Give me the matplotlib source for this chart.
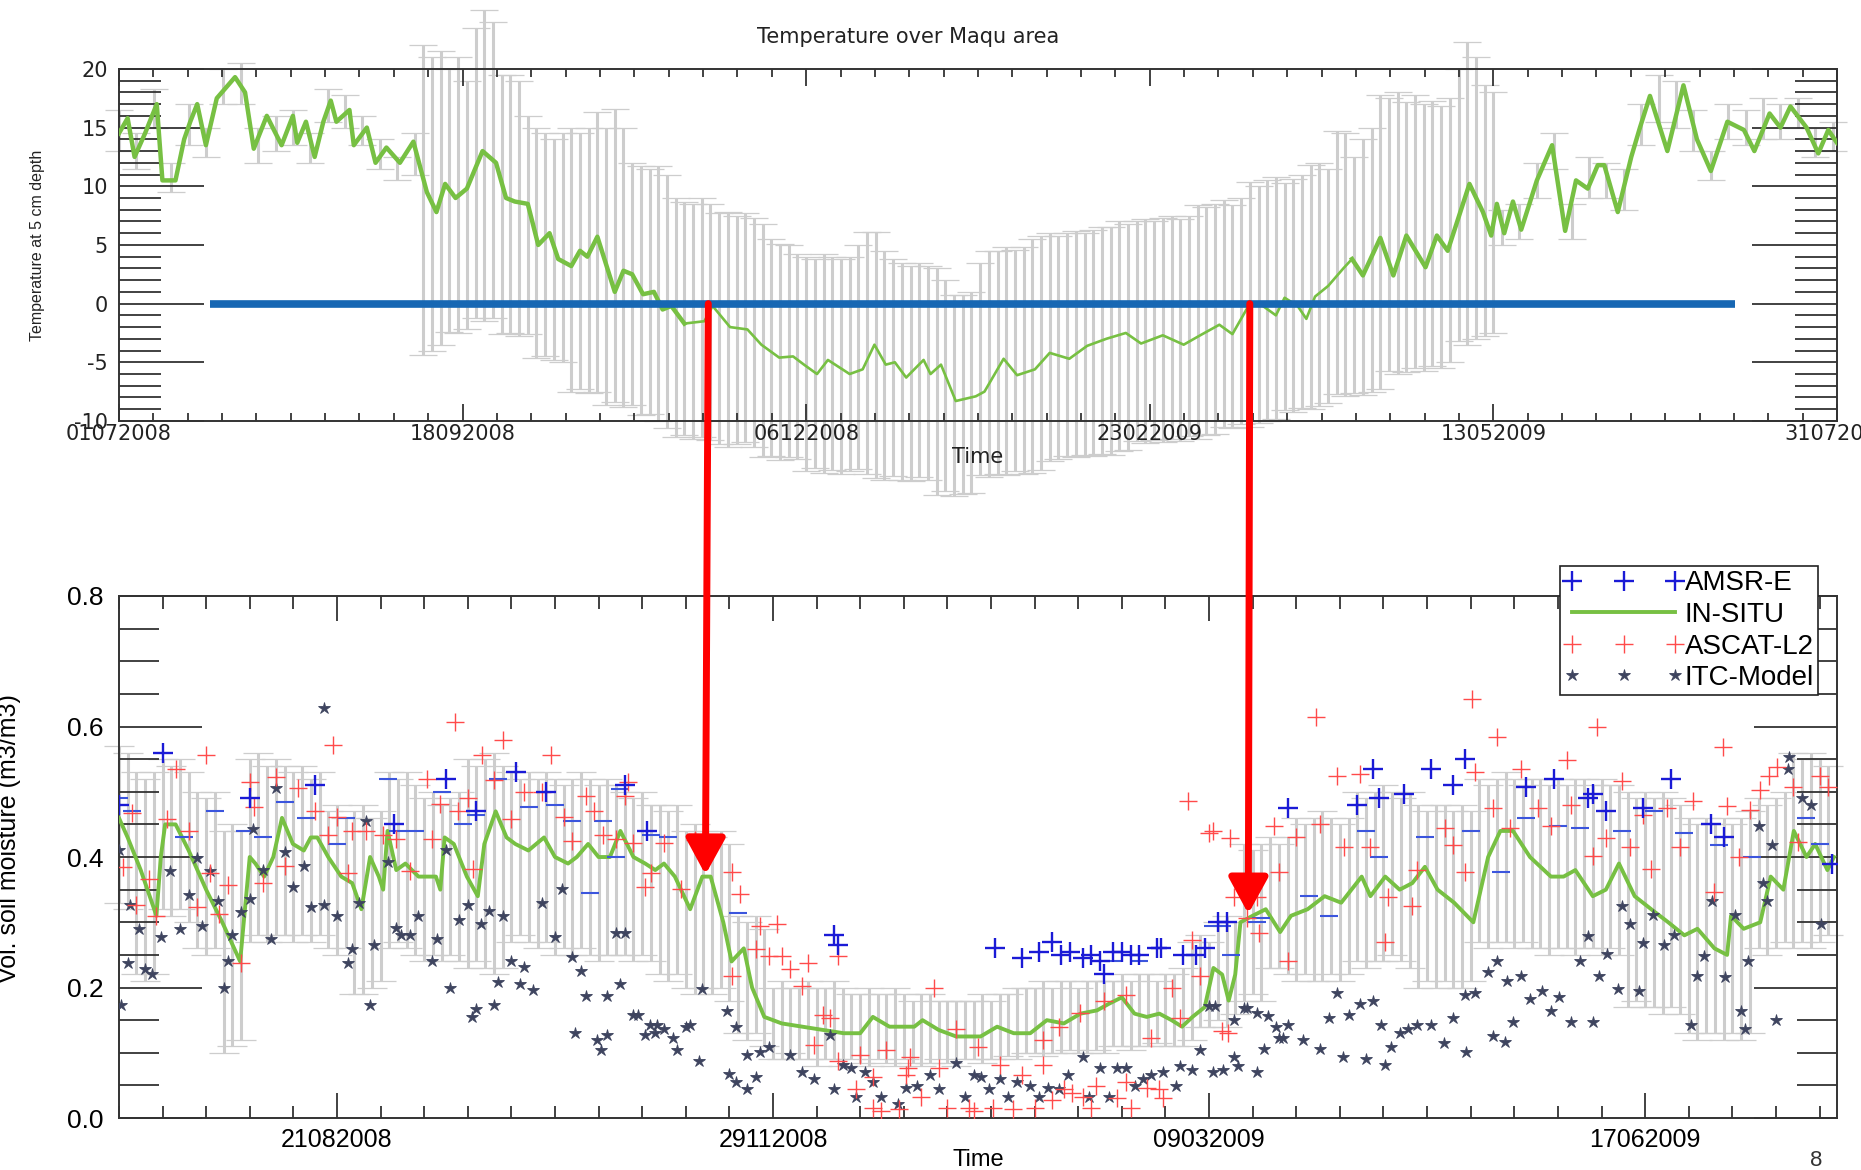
#soil temperature and soil moisture over Maqu, 2008-2009

import numpy as np
import matplotlib.pyplot as plt
from matplotlib.patches import ConnectionPatch
from matplotlib.ticker import FixedLocator, MultipleLocator

plt.rcParams['axes.unicode_minus'] = False

# ---- top panel: temperature at 5 cm (days since 01-07-2008) ----
temp_day = [0, 2, 3.6, 6, 8.7, 10, 13, 15, 16.4, 18, 20, 22.5, 26.7, 29, 31, 34, 37.4, 40, 41, 43,
            45, 47, 48.7, 50, 53, 54, 57, 59, 61.5, 64.6, 67.7, 70.8, 73, 75, 77.4, 80, 83.6, 86.7, 89, 91,
            94, 96.4, 99, 101, 104, 106, 107.7, 110, 114, 116, 118, 120.5, 123, 125, 127, 130, 134.6, 136.5, 140.5, 144.5,
            147.7, 151.8, 155, 157.5, 160.5, 163, 168, 171, 173.7, 176.3, 178.4, 181, 185, 186.6, 189, 192.4, 197, 199, 203.4, 206.5,
            210.6, 214, 218.5, 222.6, 227, 231.5, 235, 240, 244.8, 248.6, 253, 256, 260, 263, 266, 268, 271, 273, 275, 278,
            281.5, 283.5, 286, 290, 293, 296, 300.4, 303, 305.5, 310.5, 313.6, 315.5, 316.8, 318.5, 320.5, 322.4, 326, 329.5, 332.5, 335,
            337.7, 340, 341.5, 344.6, 347.7, 349.7, 352, 356, 359.7, 362.8, 366, 369.8, 373.6, 376, 379.5, 382, 384.3, 388, 390.7, 393, 395]
temp_val = [14.5, 15.8, 12.5, 14.5, 17, 10.5, 10.5, 14, 15.5, 17, 13.5, 17.5, 19.3, 18, 13.2, 16, 13.5, 16, 13.7, 15.5,
            12.5, 15.5, 17.3, 15.5, 16.5, 13.5, 15, 12, 13.3, 12, 13.8, 9.5, 7.8, 10.2, 9, 9.8, 13, 12, 9, 8.7,
            8.5, 5, 6, 3.8, 3.2, 4.5, 4, 5.7, 1, 2.8, 2.5, 0.8, 1, -0.5, -0.2, -1.7, -1.5, -0.2, -2, -2.2,
            -3.5, -4.6, -4.5, -5.2, -6, -4.8, -6, -5.6, -3.5, -5.2, -5, -6.3, -4.8, -6, -5.2, -8.3, -7.9, -7.5, -4.7, -6.1,
            -5.6, -4.2, -4.7, -3.6, -3.0, -2.5, -3.4, -2.7, -3.5, -2.7, -1.8, -2.6, 0, -0.2, -1.0, 0.5, -0.2, -1.3, 0.6, 1.5,
            3, 3.8, 2.4, 5.6, 2.4, 5.8, 3.1, 5.8, 4.5, 10.2, 7.8, 5.8, 8.5, 6, 8.7, 6.3, 10.5, 13.5, 6.2, 10.5,
            9.8, 11.8, 11.8, 7.8, 12.5, 15, 17.7, 13, 18.6, 14, 11.3, 15.5, 14.8, 13, 16.2, 15, 16.8, 15, 12.8, 14.8, 13.7]

# spread of the stations, every 2 days from day 70 to 316
temp_err_day = np.arange(70, 317, 2)
temp_err_hi = [22, 21, 21.5, 20, 21, 19, 23.5, 25, 24, 19.5, 19.5, 19, 16, 15, 14.5, 14, 14.5, 15, 14.5, 15,
               16.3, 15, 16.6, 15, 12, 11.7, 11.5, 11.7, 11, 9, 8.7, 8.5, 9, 8.5, 7.7, 7.8, 7.5, 7.7, 7.3, 6.8,
               5.5, 5.1, 5, 4.2, 4, 3.8, 4.2, 4, 3.8, 4, 5, 6.1, 6.1, 4.5, 3.8, 3.5, 3.2, 3.5, 3.2, 3, 2,
               0.7, 0.7, 1, 3.5, 4.5, 4.5, 4.8, 4.6, 4.8, 5.5, 5.8, 6, 5.8, 6, 6.2, 6, 6.3, 6.5, 6.5,
               7, 6.8, 7, 7.2, 7, 7.3, 7.5, 7.2, 7.5, 8.4, 8.2, 8.5, 8.8, 8.4, 9, 10.4, 10, 10.5, 10.8, 10.3,
               10.6, 11, 11.8, 12, 11.5, 14.7, 14.5, 12.5, 14, 15, 17.8, 17.5, 18, 17.2, 17.8, 17, 17.3, 16.8, 17.5,
               20, 22.3, 21, 18.6, 18]
temp_err_lo = [-4.4, -4, -3.5, -2.4, -2.5, -2.2, -1.2, -1.5, -1.2, -2.6, -2.5, -2.8, -2.6, -4.6, -4.5, -4.8, -5,
               -7.5, -7.3, -7.6, -7.5, -8.6, -8.4, -8.8, -8.6, -9.5, -9.4, -10, -10.6, -11.4, -11.2, -11.5, -11.4, -11.6,
               -12, -12.2, -12, -11.8, -12.2, -13.1, -13, -13.3, -13.1, -13.2, -14.3, -14, -14.4, -14.2, -14.5, -14.3, -14.1, -14.5,
               -14.9, -15, -14.7, -15, -15.1, -14.8, -15, -16.3, -16, -16.4, -16.2, -16.1,
               -14.6, -14.8, -14.5, -14.6, -14.3, -14.5, -14.4, -14.2, -13.4, -13.2, -13, -13.1, -12.9, -13, -12.8, -12.9, -12.6, -12.5,
               -11.7, -11.9, -11.6, -11.8, -11.5, -11.7, -11.3, -11.5, -11.2, -11.1, -10.5, -10.6, -10.3, -10.5, -10.2, -10, -9.8,
               -9.1, -9.2, -8.9, -9, -8.7, -8.5, -7.7, -7.9, -7.6, -7.8, -7.5, -7.3,
               -5.7, -6, -5.8, -5.5, -5.7, -5.3, -5.5, -5, -3.2, -3.5, -3, -2.8, -2.5]

# small spread in summer
temp_small_day = [0, 4, 8, 12, 16, 20, 24, 28, 32, 36, 40, 44, 48, 52, 56, 60, 64, 68,
                  318, 322, 326, 330, 334, 338, 342, 346, 350, 354, 358, 362, 366, 370, 374, 378, 382, 386, 390, 394]
temp_small_lo = [13, 11.5, 15, 9.5, 13.5, 12.5, 17, 17, 12, 13, 13.5, 12, 15.5, 15, 13.5, 11.5, 10.5, 11,
                 5, 5.5, 9, 11.5, 5.5, 9, 9, 8, 13.5, 15.5, 15, 13, 10.5, 14, 13.5, 14, 14, 15, 12.5, 13]
temp_small_hi = [16.5, 14.5, 18.3, 12, 17, 15, 20, 20.5, 15, 16, 16.5, 14.5, 18.3, 17.8, 16, 14, 12.5, 14.5,
                 8, 8.5, 12, 14.5, 8.5, 12.5, 12, 11.5, 17, 19.5, 19, 16.5, 13, 17, 16.5, 17.5, 17, 17.5, 15, 15.5]

zero_start, zero_end = 21, 371.5
top_tick_day = [0, 79, 158, 237, 316, 395]
top_tick_lab = ['01072008', '18092008', '06122008', '23022009', '13052009', '31072009']

# ---- bottom panel: soil moisture ----
sm_day = [1, 3, 6, 9.6, 10.6, 11.6, 14, 17, 21, 24.7, 28.8, 31, 32.3, 34.3, 36.4, 38.4, 40.9, 43.4, 45, 46.5,
          49, 52, 54.5, 56.6, 58.6, 60.6, 61.6, 62.6, 64.6, 66.7, 69.7, 73.7, 74.7, 75.7, 77.8, 80.8, 83.3, 84.8, 87.4, 89.9,
          91.9, 94.9, 98.5, 101, 104, 106, 108.6, 111, 113.6, 116, 119, 121.7, 124, 126, 128.5, 132, 134.8, 136.7, 139.6, 141.5,
          144.3, 146.2, 149, 153, 157.7, 162.4, 167.2, 171, 173.9, 177.7, 183.4, 185.3, 189, 193, 198.6, 202.4, 206.2, 210, 213.8, 217.7,
          221.5, 225.3, 228, 231, 233.9, 236.7, 239.6, 242.4, 244.8, 247.2, 250, 252, 254, 255.5, 257, 258.2, 261, 264, 267.3, 269.8,
          273.6, 277.5, 281.3, 286, 288, 291.4, 294.7, 297.6, 300.5, 303.4, 307.2, 311.6, 315, 317.8, 320.7, 324.6, 329.4, 332.3, 335, 339,
          342, 345, 348.6, 352.4, 356.3, 360, 363, 366.9, 369.8, 370.7, 373.6, 377.4, 379.8, 382.7, 385.1, 388, 390, 392.8, 394.3]
sm_val = [0.46, 0.43, 0.38, 0.31, 0.40, 0.45, 0.45, 0.41, 0.35, 0.30, 0.24, 0.40, 0.39, 0.37, 0.40, 0.46, 0.42, 0.41, 0.43, 0.43,
          0.40, 0.37, 0.36, 0.32, 0.40, 0.37, 0.35, 0.44, 0.38, 0.39, 0.37, 0.37, 0.35, 0.43, 0.42, 0.37, 0.34, 0.42, 0.47, 0.43,
          0.42, 0.41, 0.43, 0.40, 0.39, 0.40, 0.42, 0.40, 0.40, 0.44, 0.40, 0.39, 0.38, 0.39, 0.37, 0.32, 0.37, 0.37, 0.30, 0.24,
          0.26, 0.20, 0.155, 0.145, 0.14, 0.135, 0.13, 0.13, 0.155, 0.14, 0.14, 0.15, 0.135, 0.125, 0.125, 0.14, 0.13, 0.13, 0.15, 0.145,
          0.16, 0.165, 0.175, 0.185, 0.16, 0.155, 0.16, 0.15, 0.14, 0.155, 0.17, 0.23, 0.22, 0.18, 0.22, 0.30, 0.31, 0.32, 0.285, 0.31,
          0.32, 0.34, 0.33, 0.37, 0.34, 0.37, 0.35, 0.36, 0.385, 0.35, 0.33, 0.30, 0.40, 0.44, 0.44, 0.40, 0.37, 0.37, 0.38, 0.34,
          0.35, 0.39, 0.34, 0.32, 0.30, 0.28, 0.29, 0.26, 0.25, 0.31, 0.29, 0.30, 0.37, 0.35, 0.44, 0.40, 0.42, 0.38, 0.40]

sm_err_day = np.arange(1, 394, 2)
sm_err_hi = [0.57, 0.56, 0.53, 0.52, 0.53, 0.55, 0.54, 0.55, 0.53, 0.50, 0.49, 0.50, 0.44, 0.45, 0.44,
             0.55, 0.56, 0.54, 0.55, 0.54, 0.53, 0.54, 0.52, 0.53, 0.47, 0.48, 0.46, 0.47, 0.48, 0.46, 0.47,
             0.53, 0.52, 0.53, 0.51, 0.49, 0.50, 0.48, 0.49, 0.50, 0.55, 0.54, 0.55, 0.56, 0.54,
             0.53, 0.52, 0.53, 0.52, 0.53, 0.52, 0.51, 0.52, 0.53, 0.52, 0.51, 0.52, 0.51,
             0.50, 0.49, 0.50, 0.48, 0.48, 0.47, 0.48, 0.44, 0.45, 0.44, 0.43, 0.44, 0.42, 0.31, 0.30, 0.31, 0.29,
             0.20, 0.21, 0.20, 0.20, 0.21, 0.20, 0.20, 0.21, 0.20, 0.19,
             0.19, 0.20, 0.19, 0.19, 0.20, 0.19, 0.18, 0.19, 0.19, 0.18, 0.18, 0.18,
             0.18, 0.18, 0.19, 0.18, 0.19, 0.19, 0.20, 0.20, 0.20, 0.21, 0.20, 0.21, 0.21, 0.20, 0.21, 0.21, 0.21,
             0.21, 0.22, 0.21, 0.22, 0.22, 0.21, 0.22, 0.22, 0.23, 0.27, 0.28, 0.27, 0.30, 0.31, 0.30,
             0.42, 0.41, 0.42, 0.43, 0.42, 0.43, 0.46, 0.45, 0.46, 0.47, 0.46, 0.45, 0.46,
             0.50, 0.49, 0.50, 0.51, 0.50, 0.49, 0.50, 0.48, 0.47, 0.48, 0.48, 0.47, 0.48, 0.47,
             0.52, 0.51, 0.52, 0.53, 0.52, 0.51, 0.52, 0.52, 0.51, 0.52, 0.51, 0.52, 0.52, 0.51, 0.52, 0.51, 0.51,
             0.50, 0.49, 0.50, 0.49, 0.50, 0.49, 0.48, 0.46, 0.45, 0.46, 0.45, 0.46, 0.45, 0.46, 0.47,
             0.49, 0.48, 0.49, 0.50, 0.56, 0.55, 0.56, 0.55, 0.54]
sm_err_lo = [0.33, 0.32, 0.22, 0.21, 0.22, 0.32, 0.31, 0.32, 0.30, 0.26, 0.25, 0.26, 0.10, 0.11, 0.12,
             0.27, 0.28, 0.27, 0.28, 0.28, 0.27, 0.28, 0.27, 0.28, 0.26, 0.25, 0.26, 0.19, 0.19, 0.20, 0.21,
             0.26, 0.27, 0.26, 0.25, 0.24, 0.25, 0.24, 0.25, 0.24, 0.23, 0.24, 0.23, 0.22, 0.23,
             0.27, 0.28, 0.27, 0.26, 0.27, 0.25, 0.26, 0.25, 0.26, 0.25, 0.24, 0.25, 0.25,
             0.25, 0.24, 0.25, 0.24, 0.22, 0.21, 0.22, 0.20, 0.19, 0.20, 0.19, 0.20, 0.18, 0.13, 0.12, 0.13, 0.11,
             0.09, 0.09, 0.10, 0.09, 0.09, 0.08, 0.09, 0.09, 0.08, 0.09,
             0.085, 0.08, 0.09, 0.085, 0.08, 0.09, 0.085, 0.08, 0.085, 0.09, 0.085, 0.08,
             0.09, 0.09, 0.085, 0.09, 0.09, 0.095, 0.09, 0.10, 0.10, 0.095, 0.10, 0.10, 0.105, 0.10, 0.10, 0.105, 0.10,
             0.11, 0.11, 0.105, 0.11, 0.11, 0.115, 0.11, 0.11, 0.11, 0.12, 0.14, 0.14, 0.15, 0.14, 0.16,
             0.18, 0.19, 0.18, 0.23, 0.23, 0.22, 0.21, 0.22, 0.21, 0.21, 0.22, 0.21, 0.22,
             0.24, 0.23, 0.24, 0.24, 0.25, 0.24, 0.23, 0.20, 0.21, 0.20, 0.21, 0.20, 0.20, 0.21,
             0.27, 0.26, 0.27, 0.27, 0.26, 0.27, 0.26, 0.26, 0.25, 0.26, 0.26, 0.25, 0.26, 0.26, 0.25, 0.26, 0.25,
             0.17, 0.18, 0.17, 0.17, 0.16, 0.17, 0.16, 0.13, 0.12, 0.13, 0.13, 0.12, 0.13, 0.12, 0.13,
             0.26, 0.25, 0.26, 0.27, 0.26, 0.27, 0.26, 0.27, 0.28]

amsr_day = [1, 11, 31, 46, 64, 76, 83, 92, 99, 117, 122, 165, 166, 202, 208, 212, 215, 217, 219, 222, 224, 226, 227,
            229, 231, 233, 235, 239, 240, 245, 248, 250, 253, 255, 269, 285, 288.5, 290, 295.7, 302, 307, 309.6,
            323.6, 330, 338, 339, 342, 350.5, 357, 366, 369, 393.8]
amsr_val = [0.48, 0.56, 0.49, 0.51, 0.45, 0.52, 0.47, 0.53, 0.50, 0.51, 0.44, 0.28, 0.265, 0.26, 0.245, 0.255, 0.27,
            0.25, 0.255, 0.245, 0.25, 0.24, 0.22, 0.255, 0.255, 0.25, 0.25, 0.26, 0.26, 0.25, 0.25, 0.26, 0.30, 0.30,
            0.475, 0.48, 0.535, 0.49, 0.497, 0.535, 0.51, 0.55, 0.507, 0.52, 0.49, 0.497, 0.47, 0.475, 0.52, 0.45, 0.43, 0.39]
# second AMSR-E overpass, drawn as dashes
amsr_d_day = [1, 4, 16, 23, 30, 34, 39, 44, 51, 53, 62.6, 65, 69, 75, 80, 83, 88, 95, 101, 105, 109, 112, 115, 116,
              123, 127, 143, 229, 235, 252, 254, 256, 262, 263, 274, 278.4, 287, 290, 300.5, 311, 318, 323.6, 331,
              336, 345.7, 353, 360, 368, 375.5, 388, 391]
amsr_d_val = [0.49, 0.47, 0.43, 0.47, 0.44, 0.43, 0.485, 0.46, 0.42, 0.46, 0.52, 0.44, 0.44, 0.50, 0.45, 0.465, 0.52,
              0.476, 0.48, 0.455, 0.345, 0.455, 0.40, 0.505, 0.434, 0.43, 0.314, 0.24, 0.24, 0.295, 0.295, 0.25, 0.30,
              0.306, 0.34, 0.31, 0.44, 0.40, 0.43, 0.44, 0.377, 0.46, 0.448, 0.445, 0.44, 0.47, 0.437, 0.418, 0.40,
              0.46, 0.42]

ascat_day = [2, 4, 5, 8, 9.6, 12, 14, 17, 19, 21, 22, 24, 26, 29, 31, 32, 34, 37, 39, 42, 46, 49, 50, 51, 53.5,
             54.5, 57.6, 61.6, 64.6, 67.7, 71.7, 72.7, 74.7, 78, 78.8, 81, 82.3, 84.3, 87, 89, 91, 94, 98, 100, 103,
             105, 108, 110, 112, 115, 117, 117.7, 119, 121.7, 123, 126, 129.8, 133, 141.5, 141.5, 143.4, 147, 148, 150,
             152, 153, 155, 157.7, 159, 160.5, 162.4, 164, 166, 166, 170, 171, 174, 174, 175.8, 177, 180, 181.5, 182,
             182.4, 185, 188, 189, 191, 193, 196, 197, 198, 201.5, 203, 206, 208, 211, 213, 213, 215, 216.7, 217.7,
             219.6, 221.5, 222, 224, 225, 227, 230, 232, 232, 233, 236.7, 237.7, 239.6, 240.5, 242.4, 244.3, 246.2,
             247, 249, 251, 252, 254, 255.3, 255.8, 256.7, 259.6, 262, 262.4, 266, 267, 269, 271, 275.5, 276.5, 280.3,
             282, 285.6, 288, 291.4, 292, 297.6, 298.6, 305, 307, 309.6, 311.4, 312, 316, 317, 320, 322.6, 326.5,
             329.4, 333, 334, 339, 340, 342, 345.7, 347.6, 350.5, 352.4, 356, 359, 362, 366.9, 368.8, 369.8, 372.6,
             375, 377.4, 379.4, 381.3, 385, 386, 391, 393]
ascat_val = [0.384, 0.467, 0.327, 0.366, 0.309, 0.458, 0.535, 0.44, 0.324, 0.556, 0.375, 0.312, 0.357, 0.238, 0.515,
             0.476, 0.36, 0.523, 0.387, 0.506, 0.47, 0.434, 0.571, 0.461, 0.375, 0.44, 0.44, 0.434, 0.428, 0.378, 0.52,
             0.428, 0.482, 0.607, 0.47, 0.49, 0.381, 0.556, 0.518, 0.58, 0.458, 0.50, 0.50, 0.556, 0.461, 0.425, 0.494,
             0.47, 0.434, 0.428, 0.494, 0.515, 0.422, 0.354, 0.375, 0.422, 0.351, 0.426, 0.377, 0.218, 0.344, 0.259,
             0.295, 0.248, 0.298, 0.248, 0.229, 0.202, 0.237, 0.112, 0.158, 0.153, 0.248, 0.087, 0.044, 0.096, 0.063,
             0.016, 0.011, 0.104, 0.014, 0.066, 0.076, 0.093, 0.033, 0.20, 0.076, 0.016, 0.137, 0.016, 0.011, 0.109,
             0.016, 0.082, 0.014, 0.066, 0.016, 0.082, 0.12, 0.027, 0.139, 0.044, 0.038, 0.161, 0.033, 0.016, 0.049,
             0.18, 0.03, 0.188, 0.055, 0.016, 0.046, 0.123, 0.044, 0.03, 0.20, 0.153, 0.486, 0.273, 0.218, 0.437, 0.44,
             0.134, 0.131, 0.429, 0.339, 0.306, 0.339, 0.284, 0.448, 0.377, 0.24, 0.431, 0.614, 0.45, 0.524, 0.415,
             0.527, 0.415, 0.27, 0.339, 0.325, 0.38, 0.445, 0.418, 0.377, 0.642, 0.53, 0.475, 0.584, 0.445, 0.535,
             0.475, 0.448, 0.549, 0.48, 0.401, 0.60, 0.429, 0.516, 0.415, 0.464, 0.382, 0.475, 0.415, 0.486, 0.347,
             0.568, 0.478, 0.40, 0.472, 0.502, 0.524, 0.538, 0.508, 0.423, 0.524, 0.508]

itc_day = [1, 1.5, 3, 3.5, 5.5, 7, 8.6, 10.6, 12.6, 15, 17, 19, 20, 22, 23.7, 25, 26, 27, 29, 31, 31.8, 34, 35.8,
           37, 39, 41, 43.4, 45, 48, 48, 51, 53.5, 54.5, 56, 57.6, 58.6, 59.6, 62.6, 64.6, 65.6, 67.7, 69.7, 72.7,
           74, 76, 77, 79, 81, 82, 83, 84, 85.8, 87, 88, 89, 91, 93, 94, 96, 98, 101, 102.5, 105, 105.5, 107, 108,
           110.6, 111.6, 113, 113, 115, 116, 117, 119, 120, 121.7, 122.7, 124, 124.3, 126, 128, 129, 131, 132, 134,
           134.8, 140.5, 141, 142.4, 142.4, 145, 145, 147, 148, 150, 155, 157.7, 160.5, 164, 165, 167, 169, 170, 172,
           174, 175.8, 179.6, 181.5, 184, 187, 189, 193, 195, 197, 198.6, 200.5, 203, 205, 207, 210, 212, 214, 216.7,
           218.6, 222, 223.4, 226, 228, 230, 232, 234, 235.8, 237.7, 240.5, 243.4, 244.3, 247.2, 249, 251, 252,
           252.4, 254.3, 256.7, 256.8, 257.7, 259, 259.6, 262, 262, 263.5, 264.5, 266.4, 267, 268, 269, 272.6, 276.5,
           278.4, 280.3, 281.8, 283, 285.6, 287, 288.5, 290.4, 291.4, 292.8, 294.7, 296.7, 298.6, 302, 304.8, 307,
           309.6, 310, 312, 315, 316, 317, 318.8, 319.3, 320.7, 322.6, 324.6, 327.4, 329.4, 331.3, 334, 336.1, 338,
           339, 340.4, 342.3, 344.8, 345.7, 347.6, 349.6, 350.5, 352.9, 355.3, 357.7, 361.6, 363, 364.5, 366.4,
           369.3, 371.7, 373.1, 374, 374.6, 377, 378, 379, 380, 381, 383.7, 384, 387, 389, 391.4]
itc_val = [0.41, 0.173, 0.238, 0.327, 0.29, 0.229, 0.22, 0.277, 0.378, 0.289, 0.342, 0.399, 0.294, 0.378, 0.333,
           0.20, 0.241, 0.28, 0.315, 0.336, 0.443, 0.38, 0.274, 0.506, 0.407, 0.354, 0.387, 0.324, 0.327, 0.628,
           0.309, 0.238, 0.259, 0.33, 0.455, 0.173, 0.265, 0.393, 0.291, 0.28, 0.28, 0.309, 0.241, 0.274, 0.41,
           0.199, 0.303, 0.327, 0.155, 0.167, 0.297, 0.318, 0.173, 0.208, 0.309, 0.241, 0.205, 0.232, 0.196, 0.33,
           0.277, 0.351, 0.247, 0.131, 0.226, 0.187, 0.119, 0.104, 0.187, 0.128, 0.283, 0.205, 0.283, 0.158, 0.158,
           0.128, 0.143, 0.131, 0.142, 0.137, 0.123, 0.104, 0.14, 0.142, 0.087, 0.197, 0.164, 0.068, 0.139, 0.055,
           0.044, 0.096, 0.063, 0.101, 0.109, 0.096, 0.071, 0.06, 0.128, 0.044, 0.082, 0.076, 0.033, 0.071, 0.055,
           0.033, 0.022, 0.046, 0.049, 0.066, 0.044, 0.085, 0.033, 0.066, 0.063, 0.044, 0.06, 0.033, 0.055, 0.049,
           0.033, 0.046, 0.044, 0.066, 0.093, 0.033, 0.076, 0.033, 0.076, 0.076, 0.049, 0.06, 0.066, 0.071, 0.049,
           0.079, 0.074, 0.104, 0.172, 0.071, 0.172, 0.074, 0.093, 0.15, 0.079, 0.169, 0.169, 0.071, 0.161, 0.106,
           0.156, 0.139, 0.123, 0.123, 0.142, 0.12, 0.106, 0.153, 0.191, 0.093, 0.158, 0.175, 0.09, 0.18, 0.142,
           0.082, 0.109, 0.131, 0.137, 0.142, 0.142, 0.115, 0.153, 0.188, 0.101, 0.191, 0.224, 0.126, 0.24, 0.117,
           0.21, 0.147, 0.218, 0.183, 0.194, 0.164, 0.186, 0.147, 0.24, 0.279, 0.147, 0.218, 0.251, 0.197, 0.325,
           0.298, 0.194, 0.268, 0.311, 0.265, 0.281, 0.142, 0.218, 0.249, 0.333, 0.216, 0.311, 0.164, 0.137, 0.24,
           0.448, 0.36, 0.333, 0.418, 0.15, 0.535, 0.554, 0.49, 0.48, 0.298]

bot_tick_day = [51, 151, 251, 351]
bot_tick_lab = ['21082008', '29112008', '09032009', '17062009']

# thaw/freeze dates and where the arrows land on the soil moisture curve
freeze_day = [135.5, 260]
arrow_tip = [0.373, 0.313]

green = '#77c043'
grey = '#cdcdcd'
dark = '#333333'


def grey_bars(ax, x, lo, hi, cap):
    lo = np.asarray(lo, dtype=float)
    hi = np.asarray(hi, dtype=float)
    eb = ax.errorbar(x, (lo + hi) / 2, yerr=(hi - lo) / 2, fmt='none', ecolor=grey,
                     elinewidth=2.2, capsize=cap, capthick=0.9, zorder=1)
    for art in eb.get_children():
        art.set_clip_on(False)


if __name__ == '__main__':
    fig = plt.figure(figsize=(18.61, 11.70), dpi=100)
    ax1 = fig.add_axes([0.0639, 0.6402, 0.9232, 0.3009])
    ax2 = fig.add_axes([0.0639, 0.0444, 0.9232, 0.4462])

    # --- top ---
    grey_bars(ax1, temp_err_day, temp_err_lo, temp_err_hi, 10)
    grey_bars(ax1, temp_small_day, temp_small_lo, temp_small_hi, 10)
    td = np.array(temp_day)
    tv = np.array(temp_val)
    a = td <= 130
    b = (td >= 130) & (td <= 283.5)
    c = td >= 283.5
    ax1.plot(td[a], tv[a], color=green, lw=3.2, zorder=3)
    ax1.plot(td[b], tv[b], color=green, lw=1.9, zorder=3)
    ax1.plot(td[c], tv[c], color=green, lw=3.2, zorder=3)
    ax1.hlines(0, zero_start, zero_end, colors='#1767b3', lw=5.5, zorder=5)

    ax1.set_xlim(0, 395)
    ax1.set_ylim(-10, 20)
    ax1.xaxis.set_major_locator(FixedLocator(top_tick_day))
    ax1.set_xticklabels(top_tick_lab)
    ax1.xaxis.set_minor_locator(MultipleLocator(7.9))
    ax1.yaxis.set_major_locator(MultipleLocator(5))
    ax1.yaxis.set_minor_locator(MultipleLocator(1))
    ax1.tick_params(axis='x', which='major', length=12, pad=2)
    ax1.tick_params(axis='x', which='minor', length=6)
    ax1.tick_params(axis='y', which='major', length=61, pad=8)
    ax1.tick_params(axis='y', which='minor', length=30)
    for lab in ax1.get_xticklabels() + ax1.get_yticklabels():
        lab.set_family('DejaVu Sans')
        lab.set_fontsize(15)
        lab.set_color('#222222')
    ax1.set_xlabel('Time', family='DejaVu Sans', fontsize=15, color='#222222')
    ax1.xaxis.set_label_coords(0.5, -0.075)
    ax1.set_ylabel('Temperature at 5 cm depth', family='Liberation Sans', fontsize=11.5, color='#222222')
    ax1.yaxis.set_label_coords(-0.043, 0.5)
    fig.text(0.488, 0.968, 'Temperature over Maqu area', family='DejaVu Sans', fontsize=15,
             color='#222222', ha='center', va='center')

    # --- bottom ---
    grey_bars(ax2, sm_err_day, sm_err_lo, sm_err_hi, 11)
    h_situ, = ax2.plot(sm_day, sm_val, color=green, lw=2.8, zorder=3, label='IN-SITU')
    ax2.plot(amsr_d_day, amsr_d_val, ls='none', marker='_', ms=13, mew=1.5, color='#3b55dd', zorder=4)
    h_itc, = ax2.plot(itc_day, itc_val, ls='none', marker='*', ms=9, mew=0.6, color='#3e445f',
                      zorder=4, label='ITC-Model')
    h_ascat, = ax2.plot(ascat_day, ascat_val, ls='none', marker='+', ms=13, mew=1.0, color='#ff4a4a',
                        zorder=4, label='ASCAT-L2')
    h_amsr, = ax2.plot(amsr_day, amsr_val, ls='none', marker='+', ms=15, mew=1.7, color='#1a1ad6',
                       zorder=4, label='AMSR-E')

    ax2.set_xlim(1, 395)
    ax2.set_ylim(0, 0.8)
    ax2.xaxis.set_major_locator(FixedLocator(bot_tick_day))
    ax2.set_xticklabels(bot_tick_lab)
    ax2.xaxis.set_minor_locator(FixedLocator(np.arange(1, 395, 10)))
    ax2.yaxis.set_major_locator(MultipleLocator(0.2))
    ax2.yaxis.set_minor_locator(MultipleLocator(0.05))
    ax2.tick_params(axis='x', which='major', length=18, pad=7)
    ax2.tick_params(axis='x', which='minor', length=9)
    ax2.tick_params(axis='y', which='major', length=60, pad=11)
    ax2.tick_params(axis='y', which='minor', length=29)
    for lab in ax2.get_xticklabels():
        lab.set_family('Liberation Sans')
        lab.set_fontsize(18)
    for lab in ax2.get_yticklabels():
        lab.set_family('Liberation Sans')
        lab.set_fontsize(19)
    ax2.set_xlabel('Time', family='Liberation Sans', fontsize=17)
    ax2.xaxis.set_label_coords(0.5, -0.06)
    ax2.set_ylabel('Vol. soil moisture (m3/m3)', family='Liberation Sans', fontsize=18)
    ax2.yaxis.set_label_coords(-0.057, 0.536)

    leg = ax2.legend([h_amsr, h_situ, h_ascat, h_itc], ['AMSR-E', 'IN-SITU', 'ASCAT-L2', 'ITC-Model'],
                     loc='upper right', bbox_to_anchor=(0.989, 1.057), borderaxespad=0, numpoints=3,
                     handlelength=4.3, handletextpad=0.05, labelspacing=0.2, borderpad=0.15,
                     fancybox=False, framealpha=1, edgecolor='#222222',
                     prop={'family': 'Liberation Sans', 'size': 20})
    leg.get_frame().set_linewidth(1.2)
    leg.set_zorder(10)

    for ax in (ax1, ax2):
        for s in ax.spines.values():
            s.set_linewidth(1.4)
            s.set_color(dark)
        ax.tick_params(which='both', direction='in', top=True, right=True, color=dark, width=1.3)

    # red arrows from the zero crossing down to the soil moisture curve
    for d, tip in zip(freeze_day, arrow_tip):
        con = ConnectionPatch(xyA=(d, 0), coordsA=ax1.transData, xyB=(d, tip), coordsB=ax2.transData,
                              arrowstyle='-|>,head_length=1.1,head_width=0.6', mutation_scale=20,
                              color='#ff0000', lw=5, shrinkA=0, shrinkB=0, zorder=20)
        fig.add_artist(con)

    fig.text(0.976, 0.0077, '8', family='Liberation Sans', fontsize=16, color=dark,
             ha='center', va='center')

    fig.savefig('out.png', dpi=100)
